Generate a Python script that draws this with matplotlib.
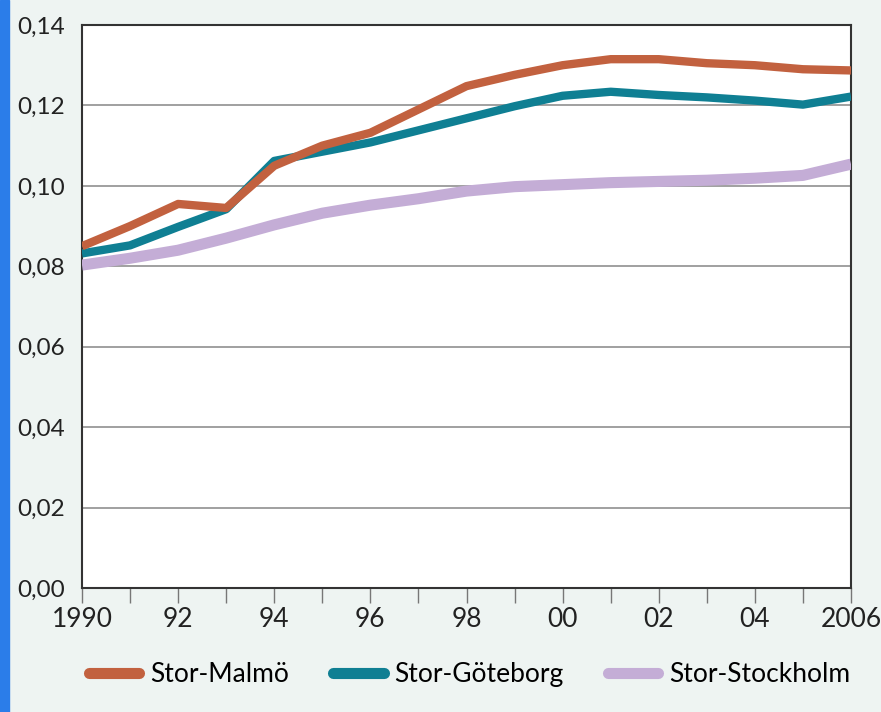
import numpy as np
import matplotlib.pyplot as plt
from matplotlib.patches import Rectangle

years = list(range(1990, 2007))
malmo = [0.085, 0.090, 0.0955, 0.0945, 0.105, 0.110, 0.1132, 0.119, 0.1248, 0.1276,
         0.130, 0.1315, 0.1315, 0.1305, 0.130, 0.129, 0.1287]
goteborg = [0.0832, 0.0852, 0.0898, 0.0942, 0.1062, 0.1085, 0.1108, 0.1138, 0.1168, 0.1198,
            0.1224, 0.1234, 0.1226, 0.1220, 0.1212, 0.1202, 0.1222]
stockholm = [0.0803, 0.082, 0.084, 0.087, 0.0903, 0.0932, 0.0952, 0.0968, 0.0987, 0.0998,
             0.1003, 0.1008, 0.1011, 0.1014, 0.1019, 0.1026, 0.1054]
labels = ['Stor-Malmö', 'Stor-Göteborg', 'Stor-Stockholm']
yticks = [0.00, 0.02, 0.04, 0.06, 0.08, 0.10, 0.12, 0.14]
xticks = [1990, 1992, 1994, 1996, 1998, 2000, 2002, 2004, 2006]
xticklabels = ['1990', '92', '94', '96', '98', '00', '02', '04', '2006']

plt.rcParams['font.family'] = ['Lato', 'DejaVu Sans']

fig = plt.figure(figsize=(8.81, 7.12), dpi=100, facecolor='#eef4f2')
fig.patches.append(Rectangle((0, 0), 9/881, 1, transform=fig.transFigure,
                             color='#2b7de9', zorder=0))
ax = fig.add_axes([82/881, 124/712, 769/881, 563/712])
ax.set_facecolor('white')

ax.plot(years, stockholm, color='#c4add6', lw=8, solid_capstyle='butt', label=labels[2], zorder=3)
ax.plot(years, goteborg, color='#0f7f93', lw=6, solid_capstyle='butt', label=labels[1], zorder=4)
ax.plot(years, malmo, color='#c2613f', lw=6, solid_capstyle='butt', label=labels[0], zorder=5)

ax.set_xlim(1990, 2006)
ax.set_ylim(0, 0.14)
ax.set_yticks(yticks)
ax.set_yticklabels([f'{v:.2f}'.replace('.', ',') for v in yticks])
ax.set_xticks(xticks)
ax.set_xticklabels(xticklabels)
ax.set_xticks(years, minor=True)
ax.tick_params(axis='y', length=0, pad=12, labelsize=17.5, colors='#222222')
ax.tick_params(axis='x', which='both', length=11, width=1, color='#777777',
               direction='out', pad=3, labelsize=19, labelcolor='#222222')
for v in yticks[1:-1]:
    ax.axhline(v, color='#999999', lw=1.3, zorder=1)
for s in ax.spines.values():
    s.set_color('#333333')
    s.set_linewidth(1.5)

h, l = ax.get_legend_handles_labels()
leg = fig.legend(h[::-1], l[::-1], loc='center', bbox_to_anchor=(0.533, 0.052), ncol=3,
                 frameon=False, fontsize=19, handlelength=1.9, columnspacing=1.7,
                 handletextpad=0.4)
for line in leg.get_lines():
    line.set_linewidth(8)
    line.set_solid_capstyle('round')

fig.savefig('out.png', dpi=100, facecolor=fig.get_facecolor())
